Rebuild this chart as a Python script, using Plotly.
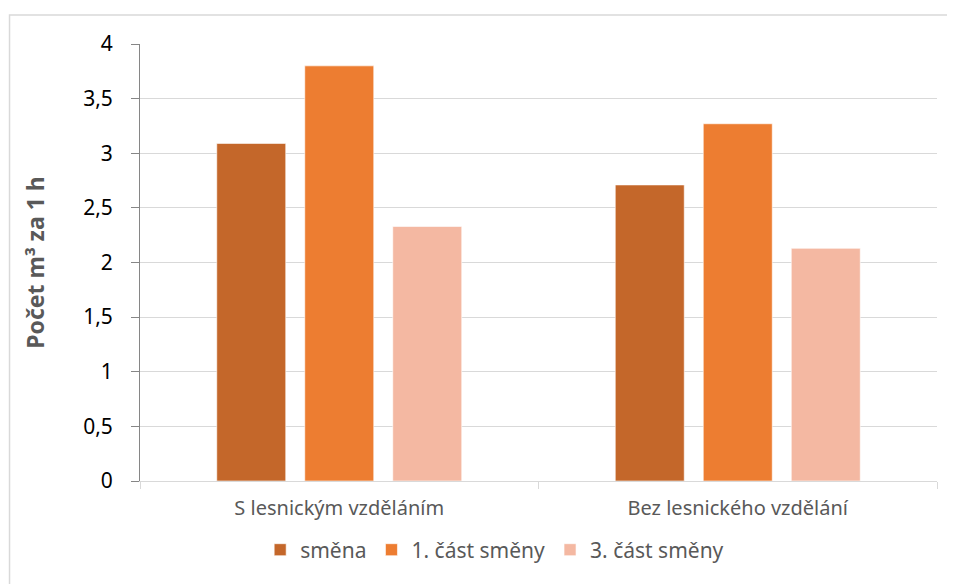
import plotly.graph_objects as go

categories = ["S lesnickým vzděláním", "Bez lesnického vzdělání"]
series_names = ["směna", "1. část směny", "3. část směny"]
smena = [3.09, 2.71]
cast1 = [3.80, 3.27]
cast3 = [2.33, 2.13]
colors = ["#C4672A", "#ED7D31", "#F4B8A2"]
y_tickvals = [0, 0.5, 1, 1.5, 2, 2.5, 3, 3.5, 4]
y_ticktext = ["0", "0,5", "1", "1,5", "2", "2,5", "3", "3,5", "4"]

FONT = "Noto Sans"
fig = go.Figure()
for name, vals, col in zip(series_names, [smena, cast1, cast3], colors):
    fig.add_trace(go.Bar(
        x=categories, y=vals, name=name,
        marker=dict(color=col, line=dict(color="rgba(255,255,255,0.6)", width=1)),
    ))

fig.update_layout(
    width=947, height=576,
    margin=dict(l=132, r=18, t=36, b=103),
    paper_bgcolor="white", plot_bgcolor="white",
    barmode="group", bargap=0.3375, bargroupgap=0.216,
    separators=",.",
    font=dict(family=FONT, color="#595959"),
    showlegend=True,
    legend=dict(orientation="h", x=0.445, xanchor="center", y=-0.158, yanchor="middle",
                font=dict(size=21, color="#595959", family=FONT),
                itemwidth=30, tracegroupgap=0, traceorder="normal"),
    xaxis=dict(
        showgrid=False, showline=True, linecolor="#d9d9d9", linewidth=1,
        ticks="outside", tickson="boundaries", ticklen=7, tickcolor="#d9d9d9",
        tickfont=dict(size=20, color="#595959", family=FONT),
        ticklabelstandoff=9,
    ),
    yaxis=dict(
        range=[0, 4], tickvals=y_tickvals, ticktext=y_ticktext,
        showgrid=True, gridcolor="#d9d9d9", gridwidth=1,
        showline=True, linecolor="#868686", linewidth=1,
        ticks="outside", ticklen=8, tickcolor="#868686",
        tickfont=dict(size=21, color="#000000", family=FONT),
        ticklabelstandoff=14,
        zeroline=False,
        title=dict(text="<b>Počet m³ za 1 h</b>",
                   font=dict(size=23, color="#595959", family=FONT),
                   standoff=32),
    ),
    shapes=[dict(type="rect", xref="paper", yref="paper",
                 x0=-0.1637, x1=1.2, y0=-0.4, y1=1.0664,
                 line=dict(color="#d9d9d9", width=1.5), fillcolor="rgba(0,0,0,0)", layer="below")],
)

fig.write_html("out.html")
